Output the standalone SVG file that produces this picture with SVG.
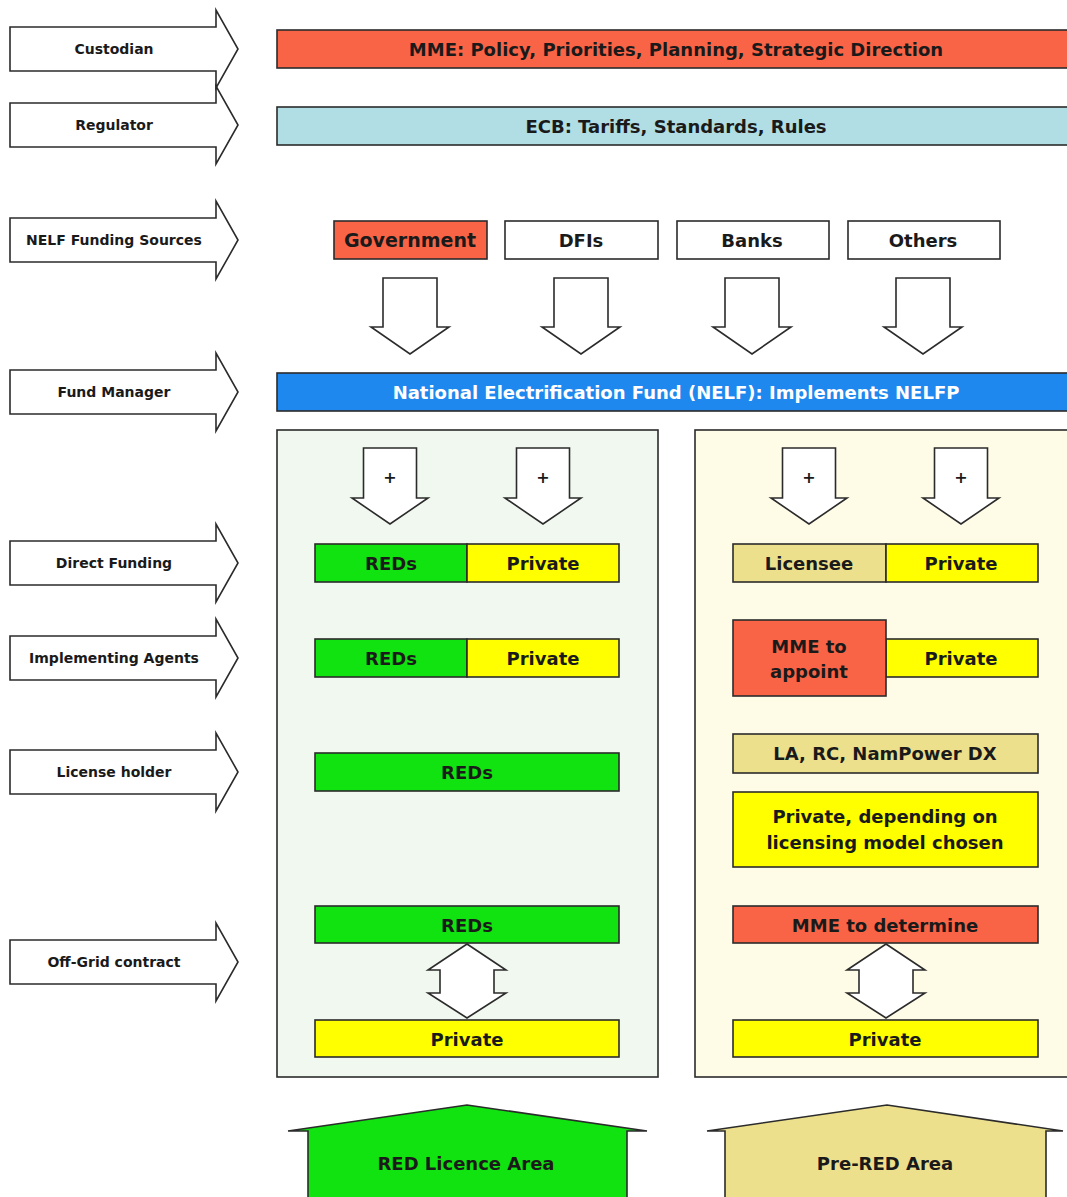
<svg xmlns="http://www.w3.org/2000/svg" xmlns:xlink="http://www.w3.org/1999/xlink" width="1067" height="1197" viewBox="0 0 1067 1197">
<style>
  text { font-family: "DejaVu Sans", "Liberation Sans", sans-serif; font-weight: bold; fill: #1a1a1a; text-anchor: middle; dominant-baseline: central; }
  .lbl { font-size: 14px; }
  .main { font-size: 18px; }
  .white { fill: #ffffff; }
  .plus { font-size: 16px; }
  .sh { stroke: #2b2b2b; stroke-width: 1.6; }
  .wh { fill: #ffffff; }
  .red { fill: #FA6446; }
  .lb { fill: #B1DEE4; }
  .blue { fill: #1F88EE; }
  .grn { fill: #10E310; }
  .yel { fill: #FFFF00; }
  .kh { fill: #EDE08D; }
</style>
<defs>
  <path id="rarrow" d="M10,-22 H216 V-39 L238,0 L216,39 V22 H10 Z"/>
  <path id="darrow" d="M-27,0 H27 V49 H39 L0,76 L-39,49 H-27 Z"/>
  <path id="sarrow" d="M-26.5,0 H26.5 V50 H38 L0,76 L-38,50 H-26.5 Z"/>
  <path id="dbl" d="M0,0 L39,26 H27 V49 H39 L0,74 L-39,49 H-27 V26 H-39 Z"/>
</defs>
<rect width="1067" height="1197" fill="#ffffff"/>

<g id="label-custodian"><use href="#rarrow" y="49" class="sh wh"/><text class="lbl" x="114" y="49">Custodian</text></g>
<g id="label-regulator"><use href="#rarrow" y="125" class="sh wh"/><text class="lbl" x="114" y="125">Regulator</text></g>
<g id="label-funding-sources"><use href="#rarrow" y="240" class="sh wh"/><text class="lbl" x="114" y="240">NELF Funding Sources</text></g>
<g id="label-fund-manager"><use href="#rarrow" y="392" class="sh wh"/><text class="lbl" x="114" y="392">Fund Manager</text></g>
<g id="label-direct-funding"><use href="#rarrow" y="563" class="sh wh"/><text class="lbl" x="114" y="563">Direct Funding</text></g>
<g id="label-implementing-agents"><use href="#rarrow" y="658" class="sh wh"/><text class="lbl" x="114" y="658">Implementing Agents</text></g>
<g id="label-license-holder"><use href="#rarrow" y="772" class="sh wh"/><text class="lbl" x="114" y="772">License holder</text></g>
<g id="label-off-grid"><use href="#rarrow" y="962" class="sh wh"/><text class="lbl" x="114" y="962">Off-Grid contract</text></g>

<g id="mme-bar"><rect x="277" y="30" width="800" height="38" class="sh red"/><text class="main" x="676" y="49">MME: Policy, Priorities, Planning, Strategic Direction</text></g>
<g id="ecb-bar"><rect x="277" y="107" width="800" height="38" class="sh lb"/><text class="main" x="676" y="126">ECB: Tariffs, Standards, Rules</text></g>

<g id="src-government"><rect x="334" y="221" width="153" height="38" class="sh red"/><text class="main" x="410" y="240" style="font-size:19px">Government</text></g>
<g id="src-dfis"><rect x="505" y="221" width="153" height="38" class="sh wh"/><text class="main" x="581" y="240">DFIs</text></g>
<g id="src-banks"><rect x="677" y="221" width="152" height="38" class="sh wh"/><text class="main" x="752" y="240">Banks</text></g>
<g id="src-others"><rect x="848" y="221" width="152" height="38" class="sh wh"/><text class="main" x="923" y="240">Others</text></g>

<g id="nelf-bar"><rect x="277" y="373" width="800" height="38" class="sh blue"/><text class="main white" x="676" y="392">National Electrification Fund (NELF): Implements NELFP</text></g>

<g id="panel-red"><rect x="277" y="430" width="381" height="647" fill="#F1F8EF" class="sh"/></g>
<g id="panel-prered"><rect x="695" y="430" width="390" height="647" fill="#FEFBE7" class="sh"/></g>

<g id="connectors">
  <use href="#darrow" x="410" y="278" class="sh wh"/>
  <use href="#darrow" x="581" y="278" class="sh wh"/>
  <use href="#darrow" x="752" y="278" class="sh wh"/>
  <use href="#darrow" x="923" y="278" class="sh wh"/>
  <use href="#sarrow" x="390" y="448" class="sh wh"/>
  <use href="#sarrow" x="543" y="448" class="sh wh"/>
  <use href="#sarrow" x="809" y="448" class="sh wh"/>
  <use href="#sarrow" x="961" y="448" class="sh wh"/>
  <text class="plus" x="390" y="477">+</text>
  <text class="plus" x="543" y="477">+</text>
  <text class="plus" x="809" y="477">+</text>
  <text class="plus" x="961" y="477">+</text>
  <use href="#dbl" x="467" y="944" class="sh wh"/>
  <use href="#dbl" x="886" y="944" class="sh wh"/>
</g>

<g id="l-direct-reds"><rect x="315" y="544" width="152" height="38" class="sh grn"/><text class="main" x="391" y="563">REDs</text></g>
<g id="l-direct-private"><rect x="467" y="544" width="152" height="38" class="sh yel"/><text class="main" x="543" y="563">Private</text></g>
<g id="l-agents-reds"><rect x="315" y="639" width="152" height="38" class="sh grn"/><text class="main" x="391" y="658">REDs</text></g>
<g id="l-agents-private"><rect x="467" y="639" width="152" height="38" class="sh yel"/><text class="main" x="543" y="658">Private</text></g>
<g id="l-holder-reds"><rect x="315" y="753" width="304" height="38" class="sh grn"/><text class="main" x="467" y="772">REDs</text></g>
<g id="l-offgrid-reds"><rect x="315" y="906" width="304" height="37" class="sh grn"/><text class="main" x="467" y="925">REDs</text></g>
<g id="l-offgrid-private"><rect x="315" y="1020" width="304" height="37" class="sh yel"/><text class="main" x="467" y="1039">Private</text></g>

<g id="r-direct-licensee"><rect x="733" y="544" width="153" height="38" class="sh kh"/><text class="main" x="809" y="563">Licensee</text></g>
<g id="r-direct-private"><rect x="886" y="544" width="152" height="38" class="sh yel"/><text class="main" x="961" y="563">Private</text></g>
<g id="r-agents-private"><rect x="886" y="639" width="152" height="38" class="sh yel"/><text class="main" x="961" y="658">Private</text></g>
<g id="r-agents-mme"><rect x="733" y="620" width="153" height="76" class="sh red"/><text class="main" x="809" y="646">MME to</text><text class="main" x="809" y="671">appoint</text></g>
<g id="r-holder-la"><rect x="733" y="734" width="305" height="39" class="sh kh"/><text class="main" x="885" y="753">LA, RC, NamPower DX</text></g>
<g id="r-holder-private"><rect x="733" y="792" width="305" height="75" class="sh yel"/><text class="main" x="885" y="816">Private, depending on</text><text class="main" x="885" y="842">licensing model chosen</text></g>
<g id="r-offgrid-mme"><rect x="733" y="906" width="305" height="37" class="sh red"/><text class="main" x="885" y="925">MME to determine</text></g>
<g id="r-offgrid-private"><rect x="733" y="1020" width="305" height="37" class="sh yel"/><text class="main" x="885" y="1039">Private</text></g>

<g id="area-red"><path d="M308,1200 V1131 H288 L467,1105 L647,1131 H627 V1200 Z" class="sh grn"/><text class="main" x="466" y="1163">RED Licence Area</text></g>
<g id="area-prered"><path d="M725,1200 V1131 H707 L887,1105 L1063,1131 H1046 V1200 Z" class="sh kh"/><text class="main" x="885" y="1163">Pre-RED Area</text></g>
</svg>
